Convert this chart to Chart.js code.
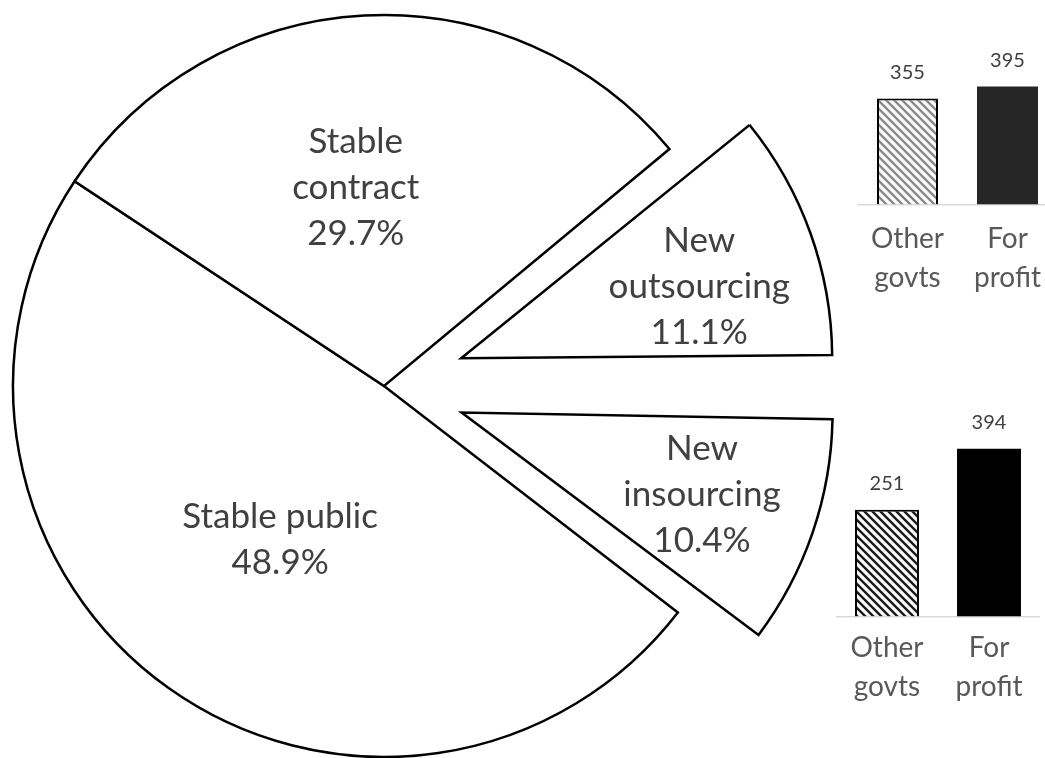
<!DOCTYPE html>
<html>
<head>
<meta charset="utf-8">
<script src="https://cdn.jsdelivr.net/npm/chart.js@4.4.1/dist/chart.umd.min.js"></script>
<style>
  html, body { margin: 0; padding: 0; background: #fff; overflow: hidden; }
  body { width: 1045px; height: 758px; position: relative; }
  canvas { position: absolute; }
  #pie { left: 0; top: 0; }
  #barTop { left: 850px; top: 40px; }
  #barBottom { left: 836px; top: 395px; }
</style>
</head>
<body>
<canvas id="pie" width="1045" height="758"></canvas>
<canvas id="barTop" width="220" height="273"></canvas>
<canvas id="barBottom" width="204" height="324"></canvas>
<script>
// pie slices, clockwise from the outsourcing wedge
const sliceNames = [['New', 'outsourcing'], ['New', 'insourcing'], ['Stable public'], ['Stable', 'contract']];
const sliceShares = [11.1, 10.4, 48.9, 29.7];
const explodedSlices = [true, true, false, false];

// the two little bar charts
const barCategories = [['Other', 'govts'], ['For', 'profit']];
const outsourcingCounts = [355, 395];
const insourcingCounts = [251, 394];

const FONT = 'Lato, "Noto Sans", sans-serif';
const EXPLODE = 82;
const RADIUS = 371;

function hatch(color, width) {
  const c = document.createElement('canvas');
  c.width = 8; c.height = 8;
  const g = c.getContext('2d');
  g.fillStyle = '#fff';
  g.fillRect(0, 0, 8, 8);
  g.strokeStyle = color;
  g.lineWidth = width;
  g.beginPath();
  g.moveTo(-2, -2); g.lineTo(10, 10);
  g.moveTo(-10, -2); g.lineTo(2, 10);
  g.moveTo(6, -2); g.lineTo(18, 10);
  g.stroke();
  return g.createPattern(c, 'repeat');
}

// chart.js pads small exploded arcs outward; pull them back to the common radius
const keepRadius = {
  id: 'keepRadius',
  afterDatasetsUpdate(chart) {
    chart.getDatasetMeta(0).data.forEach(arc => {
      const off = (arc.options.offset || 0) / 4;
      const circ = arc.endAngle - arc.startAngle;
      arc.outerRadius = RADIUS - off * (1 - Math.sin(Math.min(Math.PI, circ)));
    });
  }
};

const sliceLabels = {
  id: 'sliceLabels',
  afterDatasetsDraw(chart, args, opts) {
    const ctx = chart.ctx;
    ctx.save();
    ctx.font = '35px ' + FONT;
    ctx.fillStyle = '#404040';
    ctx.textAlign = 'center';
    ctx.textBaseline = 'middle';
    chart.getDatasetMeta(0).data.forEach((arc, i) => {
      const half = (arc.startAngle + arc.endAngle) / 2;
      const mid = half + opts.turn[i] * Math.PI / 180;
      const push = (arc.options.offset || 0) / 4;
      const r = opts.radius[i] * RADIUS;
      const cx = arc.x + Math.cos(half) * push + Math.cos(mid) * r;
      const cy = arc.y + Math.sin(half) * push + Math.sin(mid) * r;
      const lines = sliceNames[i].concat([sliceShares[i].toFixed(1) + '%']);
      const step = 46;
      lines.forEach((t, k) => {
        ctx.fillText(t, cx, cy + (k - (lines.length - 1) / 2) * step);
      });
    });
    ctx.restore();
  }
};

new Chart(document.getElementById('pie'), {
  type: 'pie',
  data: {
    labels: sliceNames.map(n => n.join(' ')),
    datasets: [{
      data: sliceShares,
      backgroundColor: '#ffffff',
      borderColor: '#000000',
      borderWidth: 2.5,
      borderJoinStyle: 'miter',
      offset: explodedSlices.map(e => e ? EXPLODE * 4 : 0)
    }]
  },
  options: {
    responsive: false,
    animation: false,
    rotation: 50.3,
    radius: RADIUS,
    layout: { padding: { left: 0, right: 1045 - 768, top: 14, bottom: 0 } },
    plugins: {
      legend: { display: false },
      tooltip: { enabled: false },
      sliceLabels: { radius: [0.67, 0.685, 0.5, 0.54], turn: [3, 0, -1.5, -5] }
    }
  },
  plugins: [keepRadius, sliceLabels]
});

const valueLabels = {
  id: 'valueLabels',
  afterDatasetsDraw(chart) {
    const ctx = chart.ctx;
    ctx.save();
    ctx.font = '20px ' + FONT;
    ctx.fillStyle = '#404040';
    ctx.textAlign = 'center';
    ctx.textBaseline = 'middle';
    const ds = chart.data.datasets[0];
    chart.getDatasetMeta(0).data.forEach((bar, i) => {
      ctx.fillText(String(ds.data[i]), bar.x, bar.y - 26);
    });
    ctx.restore();
  }
};

function smallBars(id, values, hatchColor, solidColor, pad, pct, tickPad) {
  new Chart(document.getElementById(id), {
    type: 'bar',
    data: {
      labels: barCategories,
      datasets: [{
        data: values,
        backgroundColor: [hatch(hatchColor, 2.4), solidColor],
        borderColor: ['#000000', solidColor],
        borderWidth: [2, 0],
        barPercentage: 1,
        categoryPercentage: pct
      }]
    },
    options: {
      responsive: false,
      animation: false,
      layout: { padding: pad },
      plugins: { legend: { display: false }, tooltip: { enabled: false } },
      scales: {
        y: { display: false, min: 0, max: 450 },
        x: {
          grid: { display: false, drawTicks: false, tickLength: 0 },
          border: { display: true, color: '#d9d9d9', width: 1.5 },
          ticks: {
            color: '#595959',
            padding: tickPad,
            font: { family: FONT, size: 28, lineHeight: 1.4 }
          }
        }
      }
    },
    plugins: [valueLabels]
  });
}

smallBars('barTop', outsourcingCounts, '#8a8a8a', '#262626', { left: 7.5, right: 12.5, top: 30, bottom: 0 }, 0.61, 15);
smallBars('barBottom', insourcingCounts, '#1a1a1a', '#000000', { left: 0, right: 0, top: 30, bottom: 0 }, 0.627, 12);
</script>
</body>
</html>
